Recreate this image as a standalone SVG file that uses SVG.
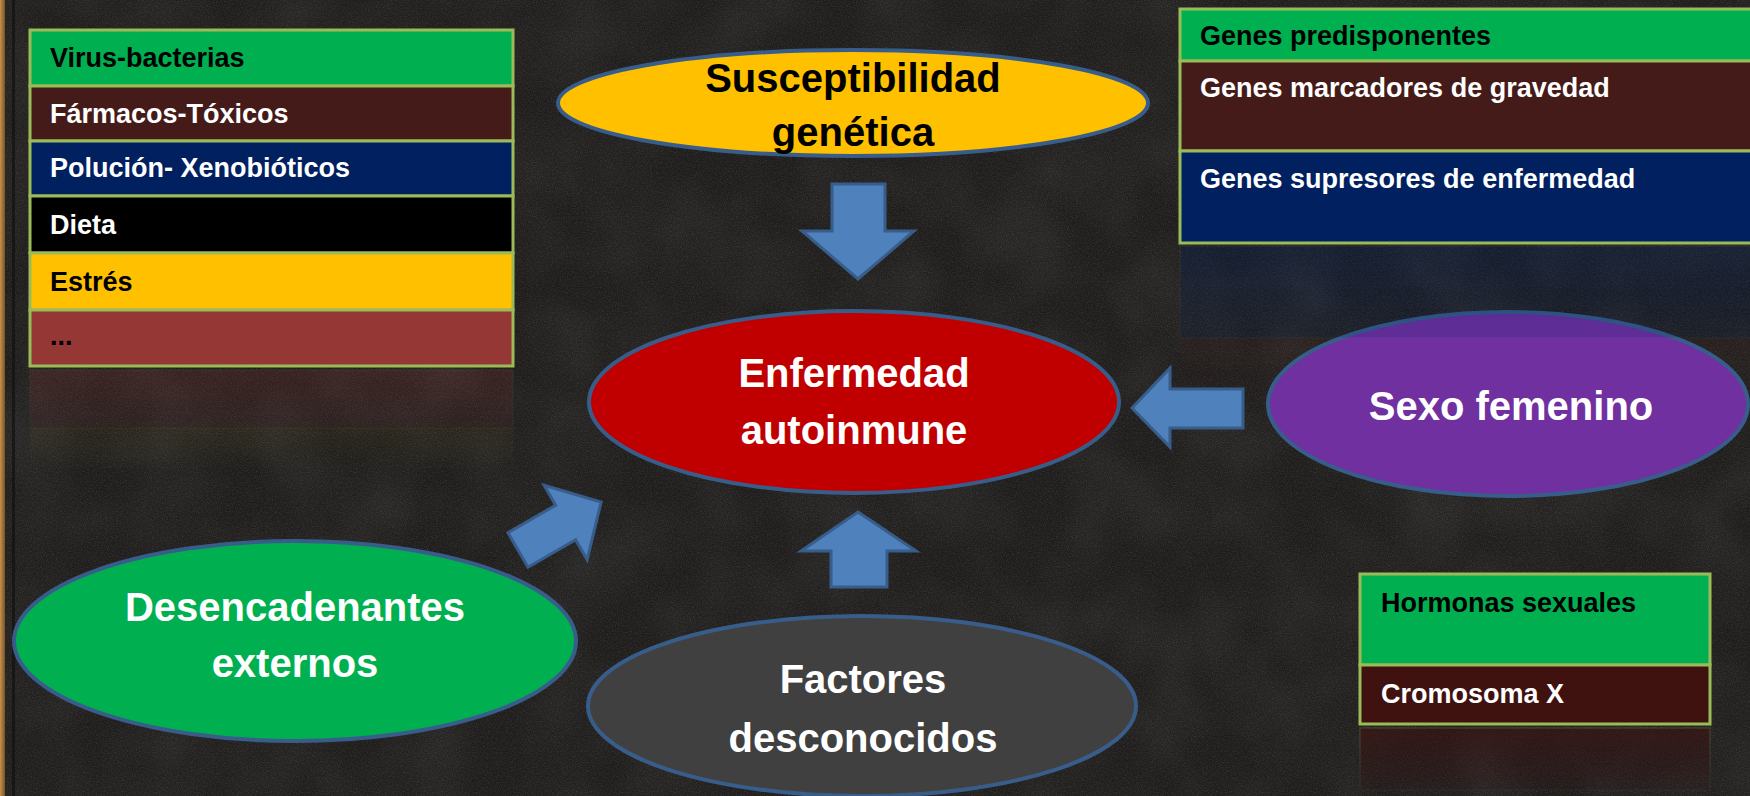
<svg xmlns="http://www.w3.org/2000/svg" width="1750" height="796" viewBox="0 0 1750 796">
  <defs>
    <filter id="chalk" x="0" y="0" width="100%" height="100%">
      <feTurbulence type="fractalNoise" baseFrequency="0.8" numOctaves="3" seed="7"/>
      <feColorMatrix type="matrix" values="0 0 0 0 1  0 0 0 0 1  0 0 0 0 1  0.2 0 0 0 -0.08"/>
    </filter>
    <filter id="blotch" x="0" y="0" width="100%" height="100%">
      <feTurbulence type="fractalNoise" baseFrequency="0.015" numOctaves="2" seed="3"/>
      <feColorMatrix type="matrix" values="0 0 0 0 1  0 0 0 0 1  0 0 0 0 1  0.09 0 0 0 -0.03"/>
    </filter>
    <linearGradient id="wood" x1="0" y1="0" x2="1" y2="0">
      <stop offset="0" stop-color="#c8914a"/>
      <stop offset="1" stop-color="#7a5328"/>
    </linearGradient>
    <linearGradient id="fadeDown" x1="0" y1="0" x2="0" y2="1">
      <stop offset="0" stop-color="#fff" stop-opacity="1"/>
      <stop offset="1" stop-color="#fff" stop-opacity="0"/>
    </linearGradient>
    <mask id="fadeL" maskUnits="userSpaceOnUse" x="0" y="366" width="520" height="120">
      <rect x="0" y="366" width="520" height="110" fill="url(#fadeDown)"/>
    </mask>
    <mask id="fadeR" maskUnits="userSpaceOnUse" x="1170" y="243" width="600" height="180">
      <rect x="1170" y="243" width="600" height="170" fill="url(#fadeDown)"/>
    </mask>
    <mask id="fadeB" maskUnits="userSpaceOnUse" x="1350" y="726" width="380" height="70">
      <rect x="1350" y="726" width="380" height="80" fill="url(#fadeDown)"/>
    </mask>
    <style>
      .cell { stroke: #9BBB59; stroke-width: 3; }
      .ell { stroke: #385D8A; stroke-width: 4; }
      .arrow { fill: #4F81BD; stroke: #385D8A; stroke-width: 3; stroke-linejoin: miter; }
      .t { font-family: "Liberation Sans", Arial, sans-serif; font-weight: bold; font-size: 27px; }
      .big { font-family: "Liberation Sans", Arial, sans-serif; font-weight: bold; font-size: 40px; text-anchor: middle; }
      .w { fill: #ffffff; }
      .k { fill: #000000; }
    </style>
  </defs>

  <!-- chalkboard background -->
  <rect x="0" y="0" width="1750" height="796" fill="#1e1d1c"/>
  <rect x="0" y="0" width="1750" height="796" filter="url(#blotch)"/>
  <rect x="0" y="0" width="1750" height="796" filter="url(#chalk)"/>
  <rect x="0" y="0" width="5" height="796" fill="url(#wood)"/>
  <rect x="12" y="0" width="3" height="796" fill="#121110" opacity="0.7"/>

  <!-- reflections -->
  <g id="reflections">
    <g mask="url(#fadeL)">
      <rect x="30" y="370" width="483" height="58" fill="#953735" opacity="0.22" stroke="#9BBB59" stroke-opacity="0.3" stroke-width="2"/>
      <rect x="30" y="428" width="483" height="56" fill="#FFC000" opacity="0.1"/>
    </g>
    <g mask="url(#fadeR)">
      <rect x="1180" y="338" width="600" height="90" fill="#4a1e1c" opacity="0.35"/>
    </g>
    <g mask="url(#fadeB)">
      <rect x="1360" y="728" width="350" height="62" fill="#3f1210" opacity="0.6" stroke="#9BBB59" stroke-opacity="0.25" stroke-width="2"/>
    </g>
  </g>

  <!-- left list -->
  <g id="triggers-list">
    <rect class="cell" x="30" y="30" width="483" height="56" fill="#00B050"/>
    <rect class="cell" x="30" y="86" width="483" height="55" fill="#451b19"/>
    <rect class="cell" x="30" y="141" width="483" height="55" fill="#002060"/>
    <rect class="cell" x="30" y="196" width="483" height="57" fill="#000000"/>
    <rect class="cell" x="30" y="253" width="483" height="57" fill="#FFC000"/>
    <rect class="cell" x="30" y="310" width="483" height="56" fill="#953735"/>
    <text class="t k" x="50" y="67">Virus-bacterias</text>
    <text class="t w" x="50" y="123">Fármacos-Tóxicos</text>
    <text class="t w" x="50" y="177">Polución- Xenobióticos</text>
    <text class="t w" x="50" y="234">Dieta</text>
    <text class="t k" x="50" y="291">Estrés</text>
    <text class="t k" x="50" y="345">...</text>
  </g>

  <!-- right genes list -->
  <g id="genes-list">
    <rect class="cell" x="1180" y="9" width="600" height="52" fill="#00B050"/>
    <rect class="cell" x="1180" y="61" width="600" height="90" fill="#451b19"/>
    <rect class="cell" x="1180" y="151" width="600" height="92" fill="#002060"/>
    <text class="t k" x="1200" y="45">Genes predisponentes</text>
    <text class="t w" x="1200" y="97">Genes marcadores de gravedad</text>
    <text class="t w" x="1200" y="188">Genes supresores de enfermedad</text>
  </g>

  <!-- bottom right list -->
  <g id="sex-list">
    <rect class="cell" x="1360" y="574" width="350" height="91" fill="#00B050"/>
    <rect class="cell" x="1360" y="665" width="350" height="59" fill="#3f1210"/>
    <text class="t k" x="1381" y="612">Hormonas sexuales</text>
    <text class="t w" x="1381" y="703">Cromosoma X</text>
  </g>

  <!-- nodes -->
  <g id="susceptibilidad">
    <ellipse class="ell" cx="853" cy="103" rx="295" ry="53" fill="#FFC000"/>
    <text class="big k" x="853" y="92">Susceptibilidad</text>
    <text class="big k" x="853" y="146">genética</text>
  </g>

  <g id="enfermedad">
    <ellipse class="ell" cx="854" cy="402" rx="265" ry="91" fill="#C00000"/>
    <text class="big w" x="854" y="387">Enfermedad</text>
    <text class="big w" x="854" y="444">autoinmune</text>
  </g>

  <g id="sexo">
    <ellipse class="ell" cx="1508" cy="404" rx="240" ry="92" fill="#7030A0"/>
    <text class="big w" x="1511" y="420">Sexo femenino</text>
  </g>

  <g id="desencadenantes">
    <ellipse class="ell" cx="295" cy="641" rx="281" ry="100" fill="#00B050"/>
    <text class="big w" x="295" y="621">Desencadenantes</text>
    <text class="big w" x="295" y="677">externos</text>
  </g>

  <g id="factores">
    <ellipse class="ell" cx="862" cy="706" rx="274" ry="90" fill="#404040"/>
    <text class="big w" x="863" y="693">Factores</text>
    <text class="big w" x="863" y="752">desconocidos</text>
  </g>

  <!-- navy reflection overlapping purple node -->
  <g mask="url(#fadeR)">
    <rect x="1180" y="246" width="600" height="92" fill="#002060" opacity="0.3" stroke="#9BBB59" stroke-opacity="0.2" stroke-width="2"/>
  </g>

  <!-- connectors -->
  <g id="connectors">
    <polygon class="arrow" points="832,184 885,184 885,231 914,231 858,279 802,231 832,231"/>
    <polygon class="arrow" points="858,512 916,551 887,551 887,587 831,587 831,551 801,551"/>
    <polygon class="arrow" points="1132,408 1170,368 1170,389 1243,389 1243,428 1170,428 1170,447"/>
    <polygon class="arrow" transform="translate(518,550) rotate(-30)" points="0,-20 55,-20 55,-43 96,0 55,43 55,20 0,20"/>
  </g>
</svg>
